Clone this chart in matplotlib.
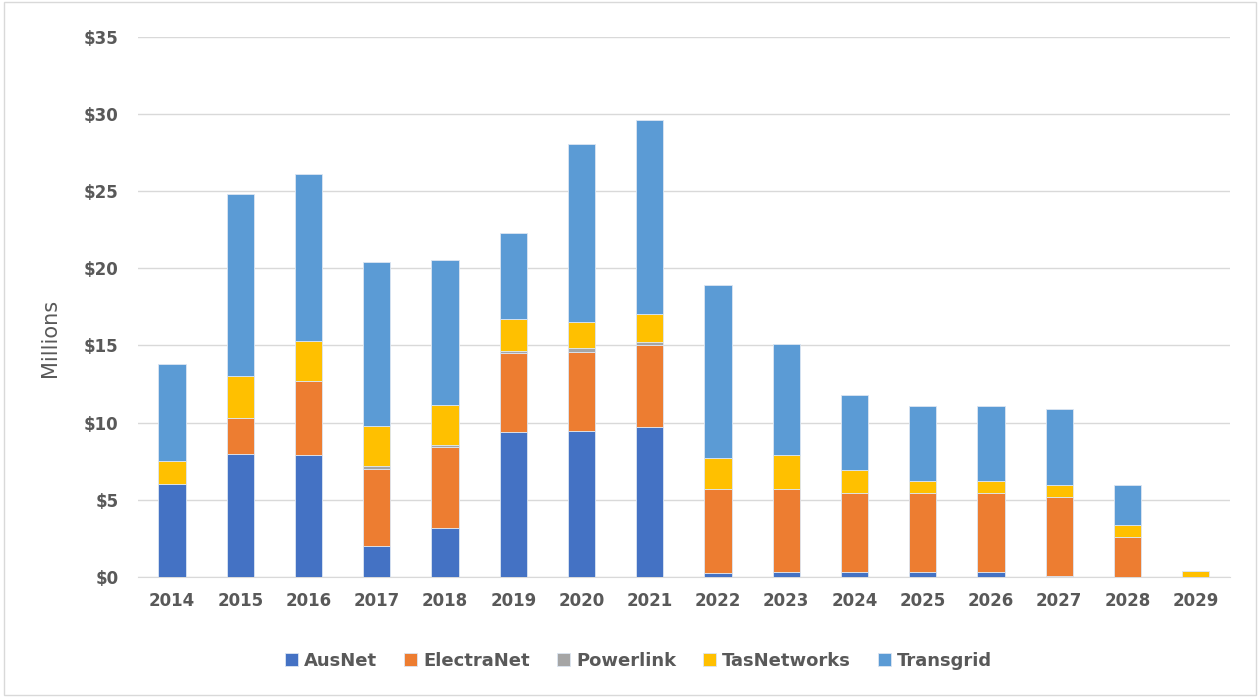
import numpy as np
import matplotlib.pyplot as plt

years = ['2014', '2015', '2016', '2017', '2018', '2019', '2020', '2021',
         '2022', '2023', '2024', '2025', '2026', '2027', '2028', '2029']

# values in $ millions
ausnet      = [6.0, 8.0, 7.9, 2.0, 3.2, 9.4, 9.45, 9.7, 0.24, 0.32, 0.32, 0.32, 0.32, 0.05, 0.0, 0.0]
electranet  = [0.0, 2.3, 4.8, 5.0, 5.2, 5.1, 5.15, 5.3, 5.44, 5.36, 5.1, 5.1, 5.1, 5.13, 2.59, 0.0]
powerlink   = [0.0, 0.0, 0.0, 0.2, 0.15, 0.15, 0.25, 0.2, 0.0, 0.0, 0.0, 0.0, 0.0, 0.0, 0.0, 0.0]
tasnetworks = [1.5, 2.7, 2.6, 2.6, 2.6, 2.05, 1.65, 1.85, 2.05, 2.24, 1.53, 0.78, 0.78, 0.8, 0.78, 0.39]
transgrid   = [6.3, 11.8, 10.8, 10.6, 9.4, 5.6, 11.55, 12.55, 11.2, 7.2, 4.85, 4.9, 4.9, 4.88, 2.57, 0.0]

series = [('AusNet', ausnet, '#4472C4'),
          ('ElectraNet', electranet, '#ED7D31'),
          ('Powerlink', powerlink, '#A5A5A5'),
          ('TasNetworks', tasnetworks, '#FFC000'),
          ('Transgrid', transgrid, '#5B9BD5')]

plt.rcParams['font.family'] = ['DejaVu Sans']
grey = '#595959'

fig = plt.figure(figsize=(12.6, 6.97), dpi=100)
ax = fig.add_axes([0.1095, 0.172, 0.8665, 0.7756])

x = np.arange(len(years))
bottom = np.zeros(len(years))
for name, vals, col in series:
    vals = np.array(vals)
    ax.bar(x, vals, 0.4, bottom=bottom, color=col, label=name,
           edgecolor='#DCE6F2', linewidth=0.6, zorder=3)
    bottom += vals

ax.set_ylim(0, 35)
ax.set_xlim(-0.5, len(years) - 0.5)
ax.set_yticks(range(0, 36, 5))
ax.set_yticklabels(['$' + str(v) for v in range(0, 36, 5)])
ax.set_xticks(x)
ax.set_xticklabels(years)
ax.tick_params(length=0, labelsize=12, labelcolor=grey)
ax.tick_params(axis='x', pad=11)
ax.tick_params(axis='y', pad=14)
for t in ax.get_xticklabels() + ax.get_yticklabels():
    t.set_fontweight('bold')

ax.grid(axis='y', color='#D9D9D9', linewidth=1, zorder=0)
for s in ['top', 'right', 'left']:
    ax.spines[s].set_visible(False)
ax.spines['bottom'].set_color('#D9D9D9')

ax.set_ylabel('Millions', fontsize=15, color=grey)
ax.yaxis.set_label_coords(-0.071, 0.442)

handles, labels = ax.get_legend_handles_labels()
fig.legend(handles, labels, loc='center', bbox_to_anchor=(0.507, 0.052), ncol=5,
           frameon=False, prop={'size': 13, 'weight': 'bold'},
           handlelength=0.7, handleheight=0.7, columnspacing=1.5,
           handletextpad=0.35, labelcolor=grey)

fig.patches.append(plt.Rectangle((0.003, 0.003), 0.994, 0.994, transform=fig.transFigure,
                                 fill=False, edgecolor='#D9D9D9', linewidth=1))

fig.savefig('out.png', dpi=100)
